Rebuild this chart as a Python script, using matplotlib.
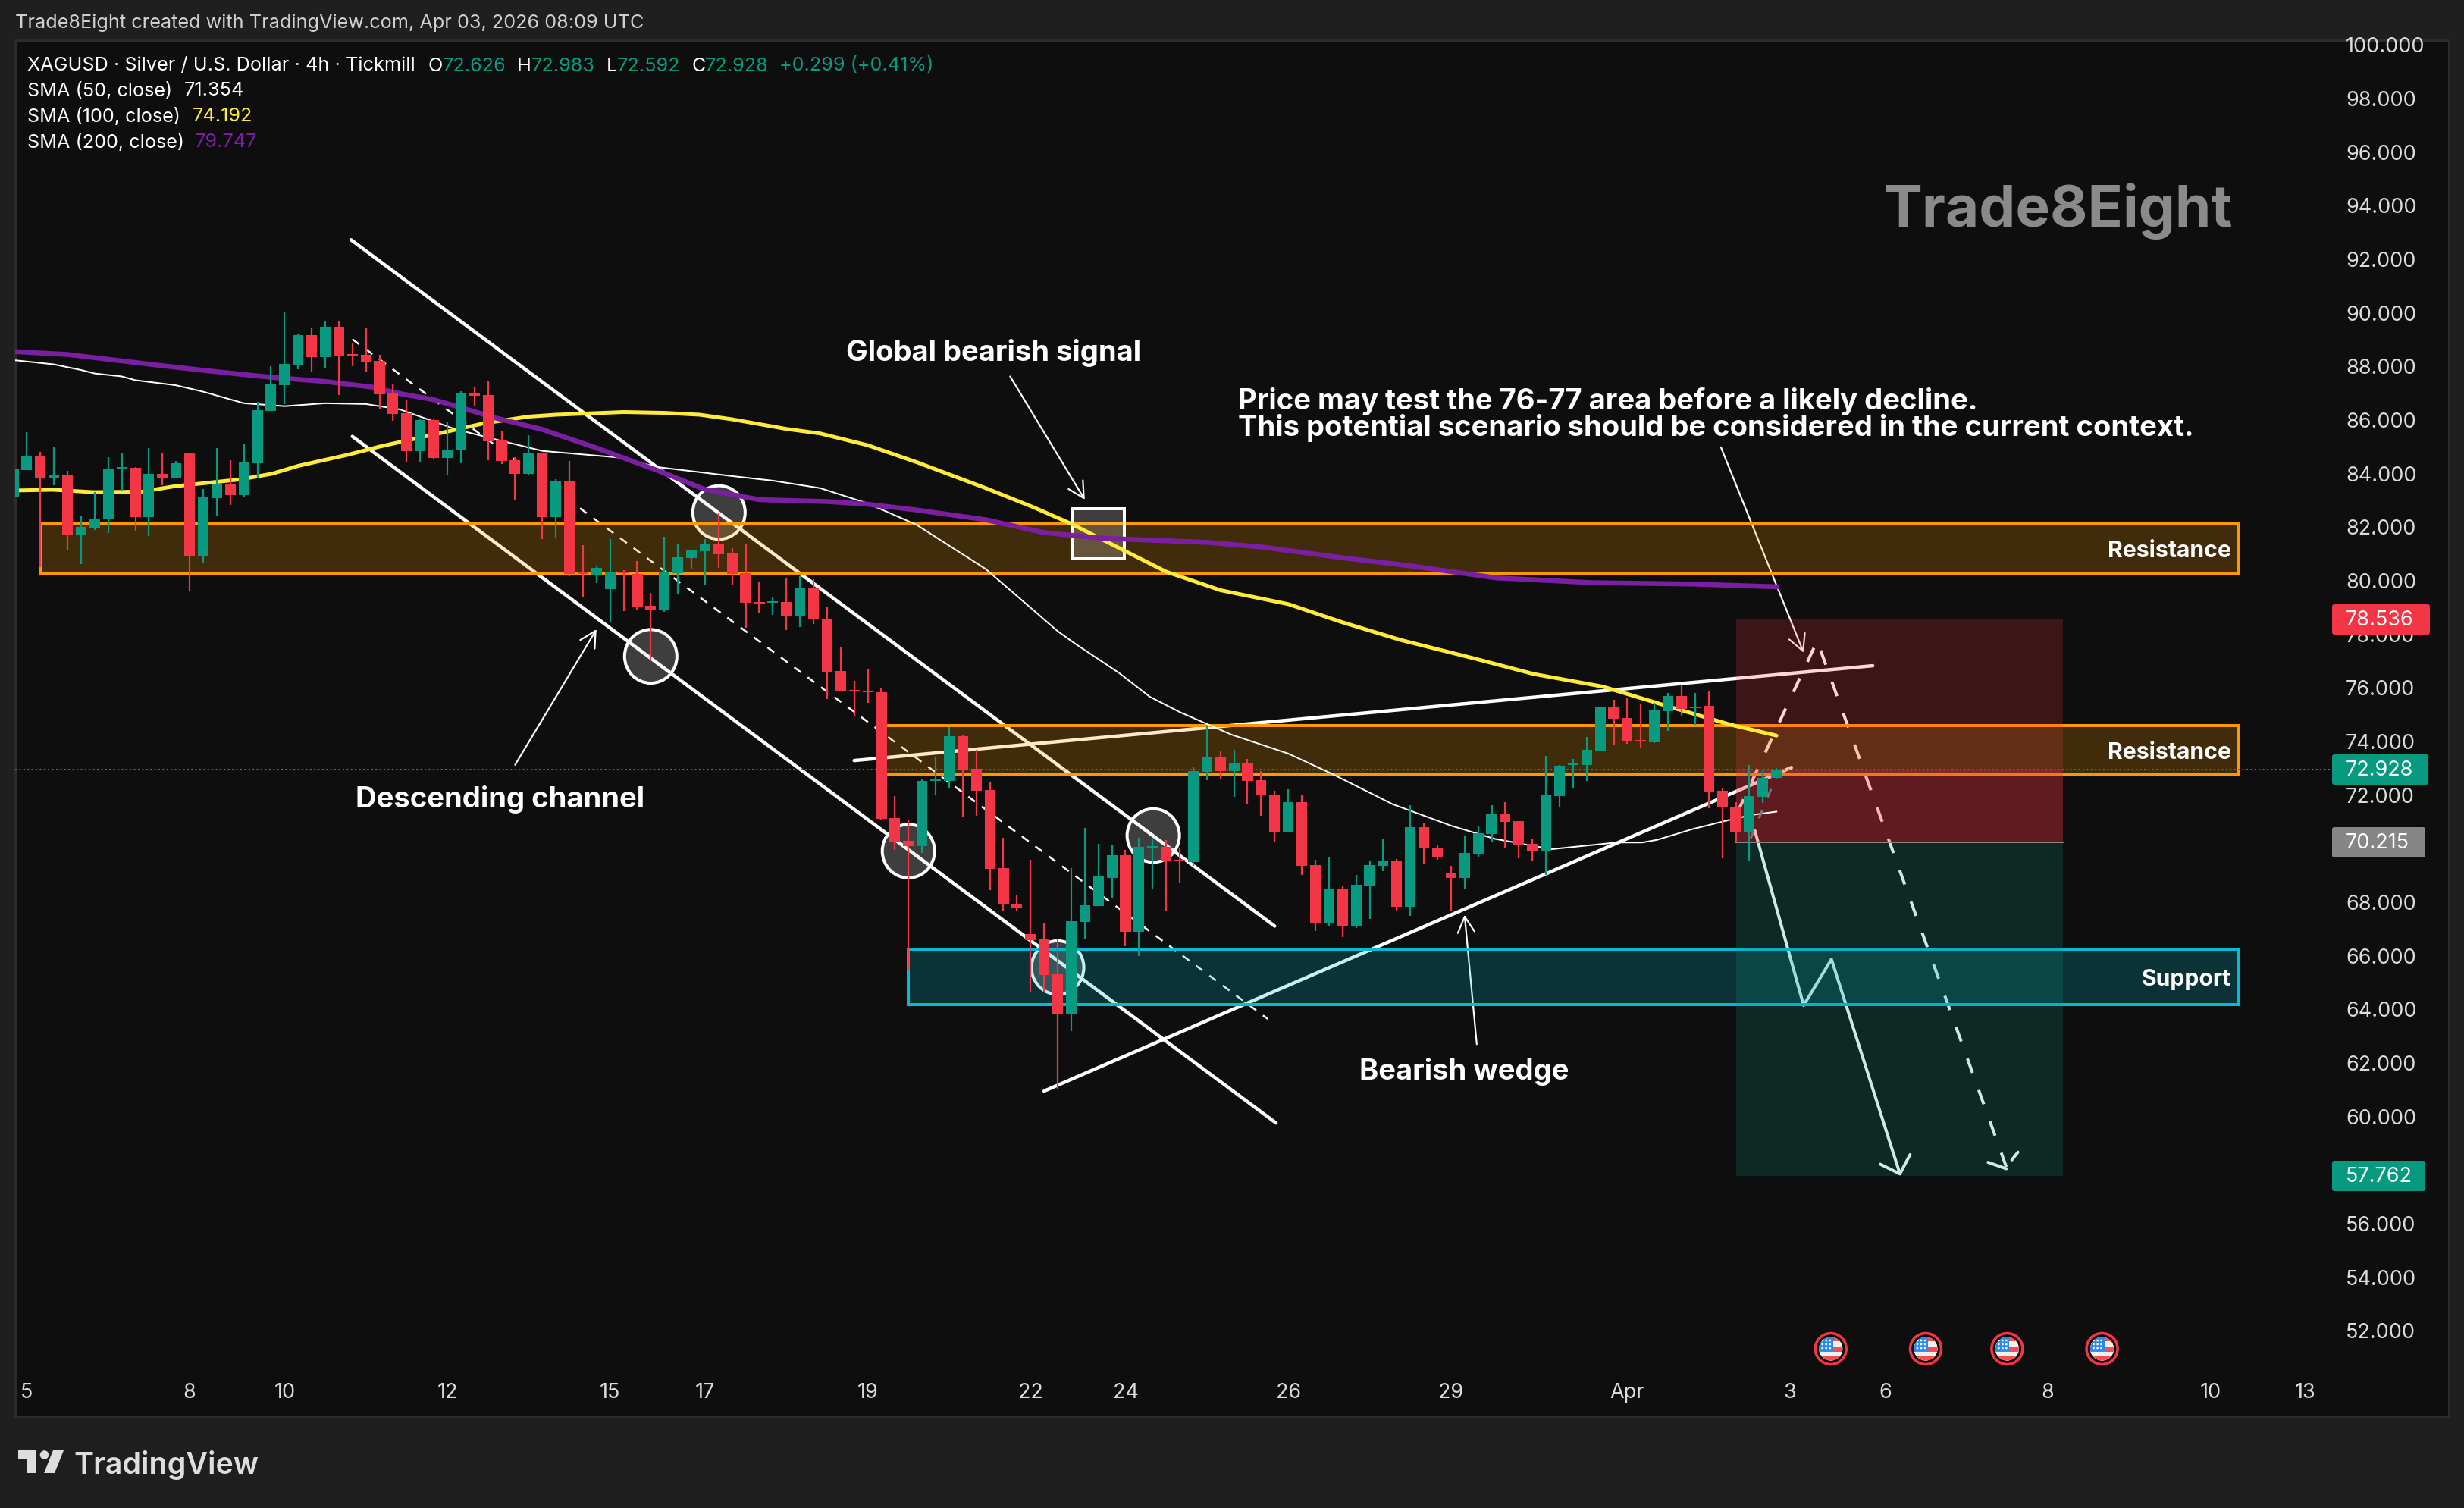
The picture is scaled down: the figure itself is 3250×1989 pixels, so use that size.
"""
XAGUSD 4h TradingView snapshot rebuilt with matplotlib.
Run:  python3 plot.py
"""
import matplotlib
matplotlib.use("Agg")
import matplotlib.pyplot as plt
from matplotlib.patches import Rectangle, Ellipse, Circle, Polygon, FancyBboxPatch

W, H = 3250, 1990
FONT = "Inter"
BG = "#0e0e0e"
PAGE = "#1f1f1f"
UP = "#089981"
DOWN = "#f23645"
TXT = "#dbdbdb"
ORANGE = "#ff9800"
CYAN = "#00bcd4"
YELLOW = "#ffeb3b"
PURPLE = "#7b1fa2"

opens = [83.11, 84.11, 84.64, 83.80, 83.93, 81.71, 81.95, 82.27, 84.17, 84.19,
         82.35, 83.96, 83.80, 84.76, 80.88, 83.06, 83.57, 83.17, 84.36, 86.31,
         87.27, 88.04, 89.14, 88.32, 89.45, 88.43, 88.41, 88.18, 86.96, 86.23,
         84.81, 85.97, 84.56, 84.84, 86.99, 86.91, 85.21, 84.47, 83.96, 84.73,
         82.35, 83.68, 80.28, 80.20, 79.66, 80.31, 80.23, 79.04, 78.90, 80.26,
         80.82, 81.08, 81.33, 80.99, 80.26, 79.18, 79.15, 79.18, 78.67, 79.72,
         78.56, 76.61, 75.90, 75.87, 75.81, 71.11, 70.26, 70.07, 72.50, 72.50,
         74.16, 72.95, 72.16, 69.24, 67.92, 66.78, 66.58, 65.28, 63.78, 67.23,
         67.83, 68.88, 69.73, 66.87, 70.01, 70.04, 69.55, 69.47, 72.84, 73.38,
         72.87, 73.15, 72.53, 71.99, 70.60, 71.71, 69.36, 67.21, 68.48, 67.09,
         68.59, 69.33, 69.50, 67.80, 70.77, 70.01, 69.05, 68.88, 69.78, 70.52,
         71.25, 71.00, 70.15, 69.90, 71.93, 73.09, 73.09, 73.63, 75.25, 74.85,
         74.03, 73.94, 75.10, 75.67, 75.22, 75.30, 72.13, 71.54, 70.58, 71.90,
         72.626]
highs = [84.13, 85.52, 84.78, 84.95, 84.08, 82.41, 83.28, 84.59, 84.73, 84.22,
         84.92, 84.73, 84.44, 84.76, 83.40, 84.92, 84.47, 85.07, 86.65, 87.98,
         89.99, 89.20, 89.43, 89.68, 89.68, 88.86, 89.40, 88.41, 87.33, 86.71,
         86.00, 86.03, 85.89, 87.05, 87.22, 87.42, 85.58, 84.59, 85.41, 84.76,
         83.77, 84.44, 81.30, 80.54, 81.53, 80.37, 80.71, 79.52, 81.61, 81.36,
         81.13, 81.53, 82.52, 81.19, 81.36, 79.92, 79.35, 80.06, 80.14, 80.03,
         78.98, 77.48, 76.24, 76.66, 75.98, 71.93, 71.02, 72.59, 73.41, 74.51,
         74.20, 73.66, 72.45, 70.37, 68.22, 69.55, 67.21, 66.61, 69.24, 70.75,
         70.15, 70.09, 69.92, 70.37, 70.34, 70.28, 70.01, 73.01, 74.54, 73.63,
         73.66, 73.32, 72.87, 72.13, 72.19, 71.96, 69.56, 69.67, 68.59, 68.99,
         69.53, 70.32, 69.58, 71.59, 70.94, 70.09, 69.33, 70.46, 70.83, 71.59,
         71.71, 71.00, 70.35, 73.43, 73.09, 73.32, 74.14, 75.27, 75.53, 75.61,
         75.36, 75.41, 75.78, 76.09, 75.78, 75.84, 72.22, 71.71, 73.09, 72.92,
         72.983]
lows = [83.11, 84.11, 80.48, 83.55, 81.14, 80.60, 81.87, 81.76, 83.35, 81.84,
        81.64, 83.55, 83.80, 79.58, 80.63, 82.41, 82.80, 83.09, 83.82, 86.31,
        86.57, 87.87, 87.78, 87.90, 86.91, 87.98, 87.78, 86.37, 85.94, 84.42,
        84.42, 84.53, 83.93, 84.36, 86.51, 84.47, 84.33, 83.00, 83.91, 81.53,
        81.59, 80.14, 79.38, 79.89, 78.44, 78.84, 78.90, 77.03, 78.81, 79.49,
        80.40, 79.83, 80.45, 79.80, 78.22, 78.76, 78.70, 78.13, 78.25, 78.36,
        75.56, 75.84, 74.93, 75.42, 71.05, 69.92, 65.45, 69.80, 71.99, 72.22,
        71.17, 71.20, 68.42, 67.64, 67.67, 64.64, 64.61, 60.98, 63.16, 66.61,
        67.83, 68.11, 66.33, 65.96, 68.48, 67.65, 68.68, 69.33, 72.53, 72.58,
        71.91, 71.65, 71.20, 70.24, 70.57, 68.99, 66.90, 67.07, 66.67, 67.01,
        67.35, 69.13, 67.66, 67.46, 69.39, 69.56, 67.63, 68.48, 69.67, 70.24,
        70.01, 69.61, 69.50, 68.99, 71.51, 72.25, 72.50, 73.60, 73.86, 73.89,
        73.74, 73.91, 74.37, 74.91, 74.59, 71.48, 69.61, 70.21, 69.53, 71.68,
        72.592]
closes = [84.13, 84.64, 83.80, 83.93, 81.71, 81.98, 82.29, 84.16, 84.22, 82.35,
          83.96, 83.82, 84.36, 80.88, 83.09, 83.57, 83.17, 84.39, 86.34, 87.30,
          88.07, 89.14, 88.32, 89.45, 88.38, 88.38, 88.15, 86.93, 86.20, 84.81,
          85.97, 84.56, 84.87, 86.99, 86.88, 85.18, 84.44, 83.96, 84.73, 82.35,
          83.68, 80.23, 80.23, 80.45, 80.28, 80.26, 79.01, 78.90, 80.28, 80.85,
          81.10, 81.33, 80.96, 80.23, 79.15, 79.10, 79.21, 78.67, 79.72, 78.53,
          76.58, 75.84, 75.84, 75.81, 71.08, 70.22, 70.07, 72.50, 72.56, 74.16,
          72.92, 72.13, 69.21, 67.89, 67.77, 66.55, 65.25, 63.78, 67.26, 67.86,
          68.93, 69.73, 66.87, 70.04, 70.07, 69.49, 69.49, 72.87, 73.38, 72.87,
          73.15, 72.50, 71.96, 70.60, 71.71, 69.33, 67.21, 68.48, 67.09, 68.62,
          69.36, 69.50, 67.80, 70.77, 69.98, 69.64, 68.88, 69.81, 70.55, 71.25,
          70.97, 70.12, 69.90, 71.96, 73.06, 73.15, 73.66, 75.25, 74.82, 73.97,
          73.97, 75.13, 75.67, 75.19, 75.27, 72.10, 71.51, 70.58, 71.93, 72.61,
          72.928]

sma50_bars = [0, 3, 5, 6, 8, 9, 12, 14, 17, 20, 23, 26, 28.5, 32.6, 35.8, 39, 44.5, 47.6, 53, 56,
              59.5, 63, 66.6, 71.7, 74.4, 77, 78.3, 81.5, 83.8, 86, 89.8, 94, 97.2, 101.7, 106,
              109.2, 113.4, 118.2, 120.1, 121.2, 123.8, 126.5, 128.2, 130]
sma50_vals = [88.21, 88.05, 87.84, 87.71, 87.60, 87.46, 87.27, 87.03, 86.60, 86.49, 86.60, 86.57, 86.37,
              85.63, 85.22, 84.82, 84.58, 84.21, 83.88, 83.71, 83.43, 82.86, 82.06, 80.41, 79.23, 78.09,
              77.62, 76.54, 75.64, 75.07, 74.23, 73.52, 72.77, 71.63, 70.83, 70.34, 69.95, 70.20, 70.20,
              70.30, 70.70, 71.04, 71.23, 71.354]
sma100_bars = [0, 2.9, 5.9, 9.5, 11.9, 13.8, 16.8, 19.1, 21, 24.7, 27, 32.6, 34.7, 38, 40, 45, 48, 50.6,
               53, 57, 59.5, 63, 66.6, 71.7, 75.2, 78, 81.9, 85, 89, 94, 98, 102.3, 107.8, 112.1, 117.2,
               121.9, 126.6, 130]
sma100_vals = [83.34, 83.37, 83.28, 83.30, 83.50, 83.60, 83.76, 83.97, 84.26, 84.68, 84.98, 85.61, 85.85,
               86.10, 86.17, 86.27, 86.24, 86.17, 86.00, 85.64, 85.47, 85.03, 84.40, 83.43, 82.72, 82.10,
               81.10, 80.31, 79.62, 79.10, 78.42, 77.76, 77.06, 76.49, 76.02, 75.30, 74.60, 74.192]
sma200_bars = [0, 4, 7, 11, 14, 17, 19, 23, 26.5, 28.5, 31, 33.4, 35.4, 39, 43, 47.5, 51, 55, 60, 63, 66.5,
               71.7, 76, 80.3, 88.2, 92.1, 98, 103, 109.3, 116.4, 123.8, 130]
sma200_vals = [88.53, 88.42, 88.24, 88.00, 87.83, 87.67, 87.57, 87.41, 87.20, 86.96, 86.73, 86.38, 86.07,
               85.62, 84.93, 84.09, 83.38, 83.00, 82.93, 82.83, 82.62, 82.25, 81.77, 81.56, 81.40, 81.23,
               80.83, 80.53, 80.08, 79.90, 79.85, 79.747]

price_ticks = list(range(52, 102, 2))
time_ticks = [1, 13, 20, 32, 44, 51, 63, 75, 82, 94, 106, 119, 131, 138, 150, 162, 169]
time_labels = ["5", "8", "10", "12", "15", "17", "19", "22", "24", "26", "29", "Apr", "3", "6", "8", "10", "13"]

# zones: left bar, right bar, low, high
res_upper = (2, 164.1, 80.25, 82.09)
res_lower = (64, 164.1, 72.76, 74.57)
support = (66, 164.1, 64.16, 66.22)
position = (127, 151.1, 57.762, 70.215, 78.536)

# drawn lines as (bars, prices)
chan_top = ([24.9, 93.0], [92.70, 67.08])
chan_low = ([25.0, 93.1], [85.36, 59.73])
chan_mid = ([25.0, 92.5], [88.99, 63.61])
wedge_low = ([76.0, 131.1], [60.92, 73.00])
wedge_top = ([62.0, 137.1], [73.26, 76.80])
path_solid = ([128.4, 132.0, 134.05, 139.1], [70.65, 64.12, 65.84, 57.83])
head_solid = ([137.65, 139.1, 139.85], [58.19, 57.83, 58.55])
path_dash = ([127.1, 133.0, 147.0], [71.30, 77.73, 58.01])
head_dash_l = ([145.6, 146.95], [58.26, 58.02])
head_dash_r = ([147.35, 147.8], [58.35, 58.64])
ghost_dash = ([129.6, 128.1], [72.20, 70.36])

circle_bars = [52.03, 47.0, 66.0, 84.05, 77.0]
circle_vals = [82.52, 77.15, 69.88, 70.46, 65.53]
square = (78.1, 81.9, 80.79, 82.66)

# (tail bar, tail price, tip bar, tip price)
arrows = [(73.5, 87.6, 79.0, 83.0), (37.0, 73.1, 43.0, 78.16),
          (107.9, 62.67, 107.0, 67.5), (125.9, 84.96, 132.0, 77.29)]
event_bars = [134, 141, 147, 154]


def px(v):
    return v * 0.72  # canvas pixels to points at dpi 100


def line(xy, color="white", w=4.5, z=2, **kw):
    ax.plot(xy[0], xy[1], color=color, lw=px(w), zorder=z, solid_capstyle="round", **kw)


def zone(b, edge, z=3):
    x0, x1, lo, hi = b
    face = matplotlib.colors.to_rgba(edge, 0.21)
    ax.add_patch(Rectangle((x0, lo), x1 - x0, hi - lo, fc=face, ec=edge, lw=px(4), zorder=z))


plt.rcParams["font.family"] = [FONT, "DejaVu Sans"]
fig = plt.figure(figsize=(W / 100, H / 100), dpi=100, facecolor=PAGE)

back = fig.add_axes([0, 0, 1, 1], zorder=-1)
back.set_xlim(0, W); back.set_ylim(H, 0); back.axis("off")
back.add_patch(Rectangle((20, 54), 3210, 1815, fc=BG, ec="#2c2c2c", lw=px(3)))

L, R, T, B = 20, 3076, 54, 1815
ax = fig.add_axes([L / W, 1 - B / H, (R - L) / W, (B - T) / H], facecolor="none")
ax.set_xlim((L - 17.5) / 17.89, (R - 17.5) / 17.89)
ax.set_ylim(80 - (B - 766) / 35.33, 80 + (766 - T) / 35.33)
for s in ax.spines.values():
    s.set_visible(False)
ax.yaxis.tick_right()
ax.set_yticks(price_ticks, [f"{p:.3f}" for p in price_ticks])
ax.set_xticks(time_ticks, time_labels)
ax.tick_params(axis="y", length=0, pad=px(18), labelsize=19.5, labelcolor=TXT)
ax.tick_params(axis="x", length=0, pad=px(9), labelsize=19.5, labelcolor=TXT)

# drawings sit under the zones, so the zones tint them
line(chan_top); line(chan_low); line(wedge_low); line(wedge_top)
ax.plot(*chan_mid, color="white", lw=px(2.5), ls=(0, (4.4, 4.4)), zorder=2)
for x, y in zip(circle_bars, circle_vals):
    ax.add_patch(Ellipse((x, y), 3.86, 2.0, fc=(1, 1, 1, 0.2), ec="white", lw=px(4), zorder=2))
for x0, y0, x1, y1 in arrows:
    ax.annotate("", xy=(x1, y1), xytext=(x0, y0), zorder=2,
                arrowprops=dict(arrowstyle="->,head_length=0.75,head_width=0.4", color="white", lw=px(2.2),
                                mutation_scale=20, shrinkA=0, shrinkB=0))
line(path_solid, w=4); line(head_solid, w=4)
ax.plot(*path_dash, color="white", lw=px(4), ls=(0, (5, 6)), zorder=2)
line(head_dash_l, w=4); line(head_dash_r, w=4)
ax.plot(*ghost_dash, color="#777777", lw=px(3), ls=(0, (4, 6)), zorder=5.5)

zone(res_upper, ORANGE); zone(res_lower, ORANGE); zone(support, CYAN)
px0, px1, pos_lo, pos_mid, pos_hi = position
ax.add_patch(Rectangle((px0, pos_mid), px1 - px0, pos_hi - pos_mid, fc=DOWN, alpha=0.2, lw=0, zorder=3))
ax.add_patch(Rectangle((px0, pos_mid), px1 - px0, closes[-1] - pos_mid, fc=DOWN, alpha=0.2, lw=0, zorder=3))
ax.add_patch(Rectangle((px0, pos_lo), px1 - px0, pos_mid - pos_lo, fc=UP, alpha=0.2, lw=0, zorder=3))
ax.plot([px0, px1], [pos_mid, pos_mid], color="#868686", lw=px(2), zorder=3)
ax.add_patch(Rectangle((square[0], square[2]), square[1] - square[0], square[3] - square[2],
                       fc=(1, 1, 1, 0.2), ec="white", lw=px(4), zorder=3.5))

ax.axhline(closes[-1], color=UP, lw=px(2), ls=(0, (1, 1.7)), zorder=3.8)
ax.plot(sma50_bars, sma50_vals, color="white", lw=px(2), zorder=4)
ax.plot(sma100_bars, sma100_vals, color=YELLOW, lw=px(5), zorder=4, solid_capstyle="round")
ax.plot(sma200_bars, sma200_vals, color=PURPLE, lw=px(6.5), zorder=4)

bars = list(range(len(opens)))
colors = [UP if c >= o else DOWN for o, c in zip(opens, closes)]
ax.vlines(bars, lows, highs, colors=colors, lw=px(2.2), zorder=5)
ax.bar(bars, [abs(c - o) for o, c in zip(opens, closes)], bottom=[min(o, c) for o, c in zip(opens, closes)],
       width=0.79, color=colors, lw=0, zorder=5)

label = dict(color="white", fontsize=27.5, fontweight="bold", zorder=7)
ax.text(72.3, 88.5, "Global bearish signal", ha="center", va="center", **label)
ax.text(35.9, 71.83, "Descending channel", ha="center", va="center", **label)
ax.text(107, 61.68, "Bearish wedge", ha="center", va="center", **label)
ax.text(90.3, 86.7, "Price may test the 76-77 area before a likely decline.", ha="left", va="center", **label)
ax.text(90.3, 85.71, "This potential scenario should be considered in the current context.", ha="left", va="center", **label)
tag = dict(color="white", fontsize=21.7, fontweight="bold", ha="right", va="center", zorder=7)
ax.text(163.5, 81.09, "Resistance", **tag)
ax.text(163.5, 73.58, "Resistance", **tag)
ax.text(163.5, 65.11, "Support", **tag)

top = fig.add_axes([0, 0, 1, 1], zorder=10, facecolor="none")
top.set_xlim(0, W); top.set_ylim(H, 0); top.axis("off")


def t(x, y, s, color=TXT, size=18.2, **kw):
    top.text(x, y, s, color=color, fontsize=size, va="center", ha=kw.pop("ha", "left"), **kw)


t(20, 30, "Trade8Eight created with TradingView.com, Apr 03, 2026 08:09 UTC", color="#d0d0d0")
t(36, 87, "XAGUSD · Silver / U.S. Dollar · 4h · Tickmill", color="white")
for x, s, col in [(564, "O", "white"), (584, "72.626", UP), (682, "H", "white"), (701, "72.983", UP),
                  (800, "L", "white"), (814, "72.592", UP), (912, "C", "white"), (930, "72.928", UP),
                  (1028, "+0.299 (+0.41%)", UP)]:
    t(x, 87, s, color=col)
for y, name, xv, val, col in [(120, "SMA (50, close)", 243, "71.354", "white"),
                              (154, "SMA (100, close)", 254, "74.192", YELLOW),
                              (188, "SMA (200, close)", 257, "79.747", PURPLE)]:
    t(36, y, name, color="white")
    t(xv, y, val, color=col)

t(2945, 279, "Trade8Eight", color="#8a8a8a", size=55, ha="right", fontweight="bold")

for y, x1, s, col in [(818, 3205, "78.536", DOWN), (1016, 3203, "72.928", UP),
                      (1112, 3199, "70.215", "#868686"), (1552, 3199, "57.762", UP)]:
    top.add_patch(FancyBboxPatch((3076, y - 20), x1 - 3076, 40, boxstyle="round,pad=0,rounding_size=3", fc=col, lw=0))
    t(3094, y, s, color="white", size=19.5)

# economic calendar flags
for b in event_bars:
    cx = ax.transData.transform((b, 70))[0]
    cy = 1780
    top.add_patch(Circle((cx, cy), 20.5, fc="none", ec=DOWN, lw=px(3.5)))
    clip = Circle((cx, cy), 15.5, fc="white", lw=0)
    top.add_patch(clip)
    parts = [Rectangle((cx - 16, cy - 16), 32, 32, fc="#f0f0f0", lw=0),
             Rectangle((cx - 16, cy - 16), 32, 6, fc="#f25050", lw=0),
             Rectangle((cx - 16, cy - 3), 32, 7, fc="#f25050", lw=0),
             Rectangle((cx - 16, cy + 9), 32, 8, fc="#f25050", lw=0),
             Rectangle((cx - 16, cy - 16), 19, 19, fc="#2a8af0", lw=0)]
    for p in parts:
        top.add_patch(p)
        p.set_clip_path(clip)
    for dx in (-11, -6, -1):
        for dy in (-11, -6, -1):
            dot = Circle((cx + dx, cy + dy), 1.4, fc="white", lw=0)
            top.add_patch(dot)
            dot.set_clip_path(clip)

# footer logo
logo = "#dedede"
top.add_patch(Polygon([(24, 1914), (48, 1914), (48, 1944), (36, 1944), (36, 1926), (24, 1926)], fc=logo, lw=0))
top.add_patch(Circle((58.5, 1920), 5.8, fc=logo, lw=0))
top.add_patch(Polygon([(70, 1914), (84, 1914), (72, 1944), (58, 1944)], fc=logo, lw=0))
t(97, 1933, "TradingView", color=logo, size=28.4, fontweight="semibold")

fig.savefig("out.png", dpi=100, facecolor=PAGE)
